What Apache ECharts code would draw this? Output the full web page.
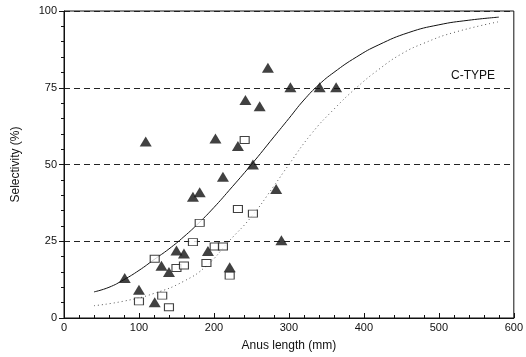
<!DOCTYPE html>
<html>
<head>
<meta charset="utf-8">
<script src="https://cdn.jsdelivr.net/npm/echarts@6/dist/echarts.min.js"></script>
<style>
  html, body { margin: 0; padding: 0; background: #fff; }
  #chart { width: 526px; height: 357px; }
</style>
</head>
<body>
<div id="chart"></div>
<script>
// triangles (filled) and squares (open): [length mm, selectivity %]
const triangles = [
  [272, 81.5], [302, 75.2], [341, 75.2], [363, 75.2], [242, 71], [261, 69],
  [109, 57.5], [202, 58.5], [232, 56], [252, 50], [212, 46], [181, 41],
  [172, 39.5], [283, 42], [290, 25.3], [150, 22], [160, 21], [192, 21.8],
  [130, 17], [140, 15], [221, 16.5], [81, 13], [100, 9.2], [121, 5.1]
]
const squares = [
  [241, 58], [232, 35.5], [252, 34], [181, 31], [172, 24.7], [201, 23.3],
  [212, 23.3], [121, 19.3], [150, 16.3], [160, 17.1], [190, 17.9],
  [221, 13.8], [100, 5.4], [131, 7.3], [140, 3.5]
]
// fitted curves
const solidCurve = [
  [40, 8.5], [60, 10], [80, 12.5], [100, 15.5], [120, 19], [140, 22.5],
  [160, 26.5], [180, 31], [200, 36], [220, 41.5], [250, 50], [280, 59],
  [300, 65], [320, 71], [340, 76], [360, 80], [390, 85], [420, 89],
  [460, 93], [500, 95.5], [540, 97], [580, 98]
]
const dottedCurve = [
  [40, 4], [80, 5.5], [120, 8], [160, 12], [190, 17], [220, 25], [250, 33],
  [280, 43], [300, 50], [330, 60], [360, 68], [390, 75], [420, 81],
  [450, 86], [480, 89.5], [520, 93], [580, 96.5]
]
const xTicks = { min: 0, max: 600, interval: 100 }
const yTicks = { min: 0, max: 100, interval: 25 }

const chart = echarts.init(document.getElementById('chart'))
const font = 'Liberation Sans, Arial, sans-serif'
const ink = '#111'

chart.setOption({
  animation: false,
  textStyle: { fontFamily: font },
  title: {
    text: 'C-TYPE',
    left: 446,
    top: 65,
    textStyle: { fontSize: 12, fontWeight: 'normal', color: ink, fontFamily: font },
  },
  grid: {
    left: 64,
    right: 12,
    top: 11,
    bottom: 39,
    show: true,
    borderColor: ink,
    borderWidth: 1,
  },
  xAxis: {
    type: 'value',
    ...xTicks,
    name: 'Anus length (mm)',
    nameLocation: 'middle',
    nameGap: 22,
    nameTextStyle: { fontSize: 12, color: ink },
    axisLine: { lineStyle: { color: ink } },
    axisTick: { inside: true, length: 5, lineStyle: { color: ink } },
    minorTick: { show: true, splitNumber: 5, length: 3, lineStyle: { color: ink } },
    axisLabel: { fontSize: 11, color: ink, margin: 4 },
    splitLine: { show: false },
  },
  yAxis: {
    type: 'value',
    ...yTicks,
    name: 'Selectivity (%)',
    nameLocation: 'middle',
    nameGap: 42,
    nameTextStyle: { fontSize: 12, color: ink },
    axisLine: { lineStyle: { color: ink } },
    axisTick: { length: 5, lineStyle: { color: ink } },
    minorTick: { show: true, splitNumber: 5, length: 3, lineStyle: { color: ink } },
    axisLabel: { fontSize: 11, color: ink, margin: 7 },
    splitLine: { show: true, lineStyle: { color: '#222', type: [6, 4], width: 1 } },
  },
  series: [
    {
      type: 'line',
      data: solidCurve,
      smooth: true,
      symbol: 'none',
      lineStyle: { color: ink, width: 1 },
      z: 2,
    },
    {
      type: 'line',
      data: dottedCurve,
      smooth: true,
      symbol: 'none',
      lineStyle: { color: '#555', width: 1, type: [1, 3] },
      z: 2,
    },
    {
      type: 'scatter',
      data: squares,
      symbol: 'rect',
      symbolSize: [9, 7],
      itemStyle: { color: '#fff', borderColor: ink, borderWidth: 1 },
      z: 3,
    },
    {
      type: 'scatter',
      data: triangles,
      symbol: 'triangle',
      symbolSize: [12, 10],
      itemStyle: { color: ink },
      z: 4,
    },
  ],
})
</script>
</body>
</html>
